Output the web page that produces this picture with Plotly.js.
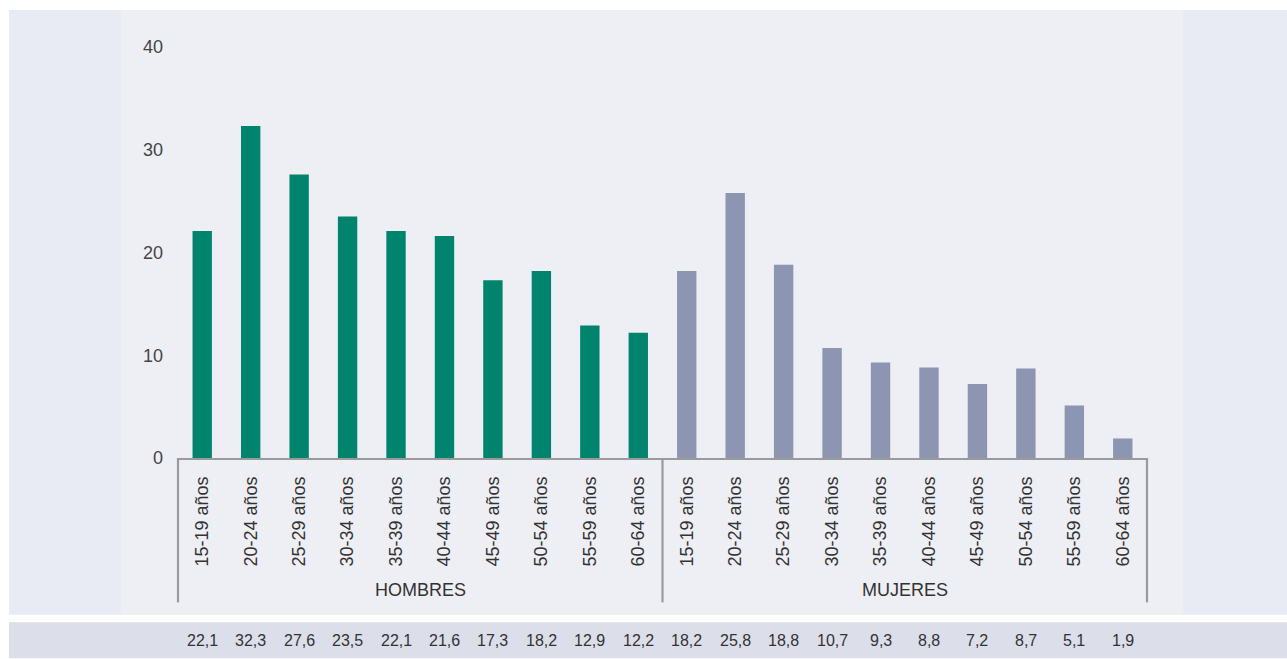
<!DOCTYPE html>
<html>
<head>
<meta charset="utf-8">
<script src="https://cdn.plot.ly/plotly-3.0.1.min.js"></script>
<style>
  html, body { margin: 0; padding: 0; background: #ffffff; }
  #chart { width: 1287px; height: 659px; }
</style>
</head>
<body>
<div id="chart"></div>
<script>
// ---- Data ----
const ageGroups = ["15-19 años", "20-24 años", "25-29 años", "30-34 años", "35-39 años",
                   "40-44 años", "45-49 años", "50-54 años", "55-59 años", "60-64 años"];
const sexGroups = ["HOMBRES", "MUJERES"];
const hombres = [22.1, 32.3, 27.6, 23.5, 22.1, 21.6, 17.3, 18.2, 12.9, 12.2];
const mujeres = [18.2, 25.8, 18.8, 10.7, 9.3, 8.8, 7.2, 8.7, 5.1, 1.9];
const yTicks = [0, 10, 20, 30, 40];

// ---- Layout constants (pixels) ----
const W = 1287, H = 659;
const L = 178, R = 1147, T = 47, B = 458.5;
const px2x = p => (p - L) / (R - L);
const py2y = p => (B - p) / (B - T);

const n = ageGroups.length;
const xH = ageGroups.map((_, i) => i);
const xM = ageGroups.map((_, i) => i + n);
const allX = xH.concat(xM);
const allLabels = ageGroups.concat(ageGroups);
const allVals = hombres.concat(mujeres);
const fmt = v => v.toFixed(1).replace('.', ',');

const font = '"Liberation Sans", Arial, Helvetica, sans-serif';

const traces = [
  { type: 'bar', x: xH, y: hombres, width: 0.4, marker: { color: '#00846e' }, name: sexGroups[0], hoverinfo: 'skip' },
  { type: 'bar', x: xM, y: mujeres, width: 0.4, marker: { color: '#8c95b1' }, name: sexGroups[1], hoverinfo: 'skip' }
];

const lineStyle = { color: '#9a9a9a', width: 2.2 };
const shapes = [
  // outer background
  { type: 'rect', xref: 'paper', yref: 'paper', x0: px2x(9), x1: px2x(1287), y0: py2y(615.5), y1: py2y(10),
    fillcolor: '#e8ebf4', line: { width: 0 }, layer: 'below' },
  // inner panel
  { type: 'rect', xref: 'paper', yref: 'paper', x0: px2x(121), x1: px2x(1183), y0: py2y(615.5), y1: py2y(10),
    fillcolor: '#eeeff5', line: { width: 0 }, layer: 'below' },
  // bottom values strip
  { type: 'rect', xref: 'paper', yref: 'paper', x0: px2x(9), x1: px2x(1287), y0: py2y(659), y1: py2y(623),
    fillcolor: '#dcdee9', line: { width: 0 }, layer: 'below' }
];
// group dividers: left edge, between groups, right edge
[0, 0.5, 1].forEach(xp => {
  shapes.push({ type: 'line', xref: 'paper', yref: 'paper', x0: xp, x1: xp, y0: 0, y1: py2y(603), line: lineStyle });
});

const annotations = [];
sexGroups.forEach((g, gi) => {
  annotations.push({ xref: 'x', yref: 'paper', x: gi * n + (n - 1) / 2, y: py2y(591), text: g,
    showarrow: false, font: { family: font, size: 18, color: '#333333' }, xanchor: 'center', yanchor: 'middle' });
});
allVals.forEach((v, i) => {
  annotations.push({ xref: 'x', yref: 'paper', x: allX[i], y: py2y(641), text: fmt(v),
    showarrow: false, font: { family: font, size: 16, color: '#333333' }, xanchor: 'center', yanchor: 'middle' });
});

const layout = {
  width: W, height: H,
  margin: { l: L, r: W - R, t: T, b: H - B, pad: 0 },
  paper_bgcolor: '#ffffff',
  plot_bgcolor: 'rgba(0,0,0,0)',
  showlegend: false,
  barmode: 'overlay',
  font: { family: font, color: '#333333' },
  xaxis: {
    range: [-0.5, 2 * n - 0.5],
    tickmode: 'array', tickvals: allX, ticktext: allLabels,
    tickangle: -90, tickfont: { family: font, size: 18, color: '#333333' },
    showgrid: false, zeroline: false, ticks: '',
    showline: true, linecolor: '#9a9a9a', linewidth: 2.2,
    ticklabelstandoff: 9, fixedrange: true
  },
  yaxis: {
    range: [0, 40],
    tickmode: 'array', tickvals: yTicks, ticktext: yTicks.map(String),
    tickfont: { family: font, size: 18, color: '#444444' },
    showgrid: false, zeroline: false, showline: false, ticks: '',
    ticklabelstandoff: 14, fixedrange: true
  },
  shapes: shapes,
  annotations: annotations,
  hovermode: false
};

Plotly.newPlot('chart', traces, layout, { displayModeBar: false, staticPlot: true });
</script>
</body>
</html>
